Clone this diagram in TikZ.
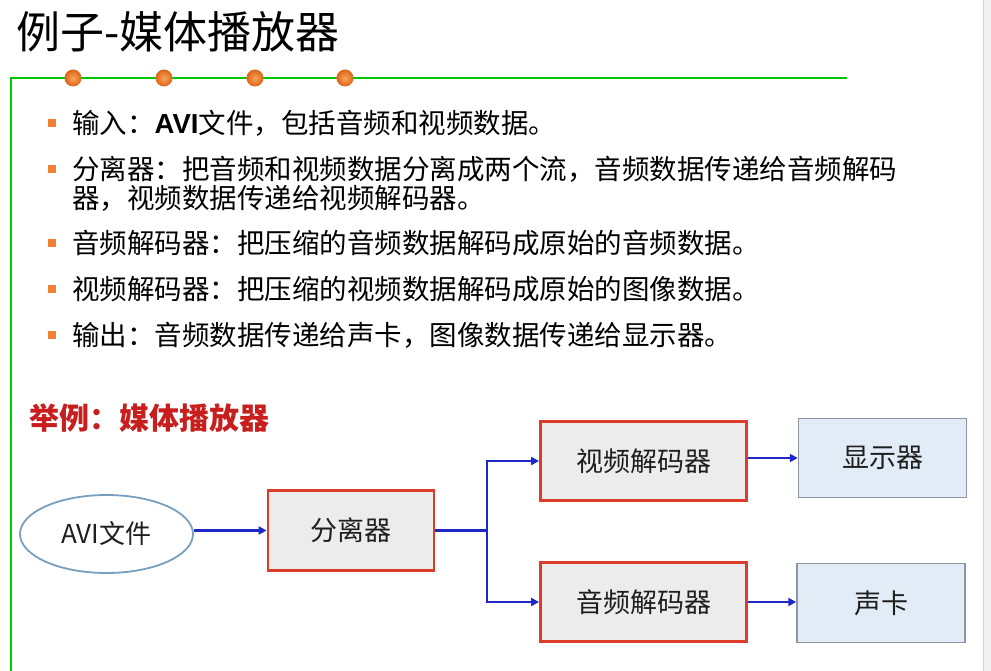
\documentclass[tikz,border=0pt]{standalone}
\usepackage{fontspec}
\setmainfont{Noto Sans CJK SC}
\newfontfamily\latbold{Liberation Sans}
\usetikzlibrary{arrows.meta,shapes.geometric}

\definecolor{rulegreen}{RGB}{0,200,0}
\definecolor{dotlight}{RGB}{248,165,90}
\definecolor{dotdark}{RGB}{220,100,25}
\definecolor{bulletorange}{RGB}{240,130,50}
\definecolor{headred}{RGB}{200,30,30}
\definecolor{flowblue}{RGB}{30,40,200}
\definecolor{procborder}{RGB}{220,60,40}
\definecolor{procfill}{RGB}{236,236,236}
\definecolor{devfill}{RGB}{226,236,247}
\definecolor{devborder}{RGB}{140,150,165}
\definecolor{ellborder}{RGB}{120,160,190}
\definecolor{boxtext}{RGB}{30,30,30}

\tikzset{
  bodytext/.style={anchor=west, inner sep=0pt, font=\fontsize{27.5}{30}\selectfont},
  bulletsq/.style={fill=bulletorange, draw=none, minimum size=8.5pt, inner sep=0pt},
  dot/.style={circle, minimum size=17pt, inner sep=0pt, draw=none,
    inner color=dotlight, outer color=dotdark},
  procbox/.style={draw=procborder, fill=procfill, line width=2.8pt,
    minimum width=205pt, minimum height=79pt, text=boxtext,
    font=\fontsize{27}{30}\selectfont},
  devbox/.style={draw=devborder, fill=devfill, line width=1.5pt,
    minimum width=168pt, minimum height=79pt, text=boxtext,
    font=\fontsize{27}{30}\selectfont},
  flow/.style={draw=flowblue, line width=2.5pt, -{Triangle[length=8pt,width=8pt]}},
}

\begin{document}
\begin{tikzpicture}[x=1pt,y=-1pt]
  \useasboundingbox (0,0) rectangle (991,671);
  \fill[white] (0,0) rectangle (991,671);

  % right margin strip
  \fill[gray!12] (983,0) rectangle (991,671);
  \draw[gray!35, line width=0.8pt] (983,0) -- (983,671);

  % title and rule
  \node[anchor=west, inner sep=0pt, font=\fontsize{44}{47}\selectfont] (title) at (16,32) {例子-媒体播放器};
  \coordinate (ruleL) at (11,78);
  \coordinate (ruleR) at (847,78);
  \coordinate (ruleB) at (11,671);
  \draw[rulegreen, line width=1.3pt] (ruleR) -- (ruleL) -- (ruleB);
  \foreach \i/\x in {1/73,2/164,3/255,4/345}
    \node[dot] (dot\i) at (\x,78) {};

  % bullet list
  \foreach \i/\y in {1/123,2/169,3/243,4/289,5/335}
    \node[bulletsq] (sq\i) at (52,\y) {};
  \node[bodytext] (b1) at (72,123) {输入：{\latbold\bfseries AVI}文件，包括音频和视频数据。};
  \node[bodytext] (b2a) at (72,169) {分离器：把音频和视频数据分离成两个流，音频数据传递给音频解码};
  \node[bodytext] (b2b) at (72,198) {器，视频数据传递给视频解码器。};
  \node[bodytext] (b3) at (72,243) {音频解码器：把压缩的音频数据解码成原始的音频数据。};
  \node[bodytext] (b4) at (72,289) {视频解码器：把压缩的视频数据解码成原始的图像数据。};
  \node[bodytext] (b5) at (72,335) {输出：音频数据传递给声卡，图像数据传递给显示器。};

  % example heading
  \node[anchor=west, inner sep=0pt, text=headred, font=\fontsize{30}{33}\selectfont\bfseries] (example) at (29,418) {举例：媒体播放器};

  % flow diagram
  \node[ellipse, draw=ellborder, fill=white, line width=1.8pt,
        minimum width=173pt, minimum height=78pt, inner sep=0pt,
        text=boxtext, font=\fontsize{26}{30}\selectfont] (avi) at (106.5,534) {AVI文件};
  \node[procbox, minimum width=166pt, minimum height=80pt] (demux) at (351,530.5) {分离器};
  \node[procbox, minimum width=206pt, minimum height=79pt] (vdec) at (643.5,461) {视频解码器};
  \node[procbox, minimum width=206pt, minimum height=79pt] (adec) at (643.5,602) {音频解码器};
  \node[devbox] (disp) at (882.5,458) {显示器};
  \node[devbox] (card) at (881,603) {声卡};

  \coordinate (split) at (487,530.5);

  \draw[flow] (demux.west -| avi.east) -- (demux.west);
  \draw[flow] (demux.east) -- (split) |- (vdec.west);
  \draw[flow] (split) |- (adec.west);
  \draw[flow] ([yshift=3pt]vdec.east) -- ([yshift=3pt]vdec.east -| disp.west);
  \draw[flow] (adec.east) -- (adec.east -| card.west);
\end{tikzpicture}
\end{document}
